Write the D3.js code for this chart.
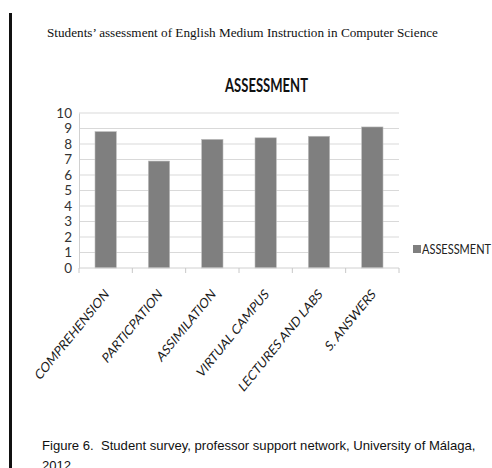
<!DOCTYPE html>
<html>
<head>
<meta charset="utf-8">
<script src="https://cdn.jsdelivr.net/npm/d3@7"></script>
<style>
  body { margin: 0; background: #fff; }
  svg { display: block; }
</style>
</head>
<body>
<svg id="chart" width="492" height="468"></svg>
<script>
// chart data
const categories = ['COMPREHENSION', 'PARTICPATION', 'ASSIMILATION', 'VIRTUAL CAMPUS', 'LECTURES AND LABS', 'S. ANSWERS'];
const values = [8.8, 6.9, 8.3, 8.4, 8.5, 9.1];
const yTicks = [0, 1, 2, 3, 4, 5, 6, 7, 8, 9, 10];
const seriesName = 'ASSESSMENT';

const headerText = 'Students\u2019 assessment of English Medium Instruction in Computer Science';
const captionLines = ['Figure 6.  Student survey, professor support network, University of M\u00e1laga,', '2012'];

const sans = 'Lato, "Open Sans", sans-serif';

const svg = d3.select('#chart');

const plot = {left: 79, right: 399, top: 113, bottom: 268};

const x = d3.scaleBand()
    .domain(categories)
    .range([plot.left, plot.right])
    .paddingInner(0.6)
    .paddingOuter(0.3);

const y = d3.scaleLinear()
    .domain([0, 10])
    .range([plot.bottom, plot.top]);

// left page rule
svg.append('rect')
    .attr('x', 9).attr('y', 13)
    .attr('width', 3).attr('height', 468)
    .attr('fill', '#111');

// header line
svg.append('text')
    .attr('x', 47).attr('y', 37)
    .style('font-family', '"Liberation Serif", "Times New Roman", serif')
    .style('font-size', '13.2px')
    .style('fill', '#111')
    .text(headerText);

// chart title (source picture is a bit stretched vertically)
svg.append('text')
    .attr('transform', 'translate(266.5,92) scale(1,1.2)')
    .attr('text-anchor', 'middle')
    .attr('textLength', 83)
    .attr('lengthAdjust', 'spacingAndGlyphs')
    .style('font-family', sans)
    .style('font-weight', 'bold')
    .style('font-size', '16.5px')
    .style('fill', '#111')
    .text(seriesName);

// gridlines
svg.append('g')
    .selectAll('line')
    .data(yTicks.filter(d => d > 0))
    .join('line')
    .attr('x1', plot.left).attr('x2', plot.right)
    .attr('y1', d => y(d)).attr('y2', d => y(d))
    .attr('stroke', '#d9d9d9')
    .attr('stroke-width', 1);

// y axis
const yAxis = svg.append('g')
    .attr('transform', `translate(${plot.left},0)`)
    .call(d3.axisLeft(y).tickValues(yTicks).tickSize(0).tickPadding(7));
yAxis.select('.domain').attr('stroke', '#d0d0d0');
yAxis.selectAll('text')
    .style('font-family', sans)
    .style('font-size', '13.5px')
    .style('fill', '#333');

// bars
svg.append('g')
    .selectAll('rect')
    .data(values)
    .join('rect')
    .attr('x', (d, i) => x(categories[i]))
    .attr('y', d => y(d))
    .attr('width', x.bandwidth())
    .attr('height', d => y(0) - y(d))
    .attr('fill', '#7f7f7f')
    .attr('stroke', '#bdbdbd')
    .attr('stroke-width', 0.6);

// x axis line and category separators
const sep = d3.range(categories.length + 1).map(i => plot.left + i * (plot.right - plot.left) / categories.length);
svg.append('line')
    .attr('x1', plot.left).attr('x2', plot.right)
    .attr('y1', plot.bottom).attr('y2', plot.bottom)
    .attr('stroke', '#d0d0d0');
svg.append('g')
    .selectAll('line')
    .data(sep)
    .join('line')
    .attr('x1', d => d).attr('x2', d => d)
    .attr('y1', plot.bottom).attr('y2', plot.bottom + 5)
    .attr('stroke', '#c8c8c8');

// category labels, rotated
svg.append('g')
    .selectAll('text')
    .data(categories)
    .join('text')
    .attr('transform', d => `translate(${x(d) + x.bandwidth() / 2 + 4},${plot.bottom + 27}) scale(1,1.23) rotate(-45)`)
    .attr('text-anchor', 'end')
    .style('font-family', sans)
    .style('font-size', '11.4px')
    .style('fill', '#1a1a1a')
    .text(d => d);

// legend
const legend = svg.append('g').attr('transform', 'translate(413,245)');
legend.append('rect')
    .attr('width', 8).attr('height', 8)
    .attr('fill', '#7f7f7f');
legend.append('text')
    .attr('transform', 'translate(9,8.5) scale(1,1.15)')
    .attr('textLength', 69)
    .attr('lengthAdjust', 'spacingAndGlyphs')
    .style('font-family', sans)
    .style('font-size', '12px')
    .style('fill', '#222')
    .text(seriesName);

// figure caption
svg.append('g')
    .selectAll('text')
    .data(captionLines)
    .join('text')
    .attr('x', 42)
    .attr('y', (d, i) => 450 + i * 20)
    .style('white-space', 'pre')
    .style('font-family', '"Liberation Sans", Arial, sans-serif')
    .style('font-size', '13.1px')
    .style('fill', '#111')
    .text(d => d);
</script>
</body>
</html>
